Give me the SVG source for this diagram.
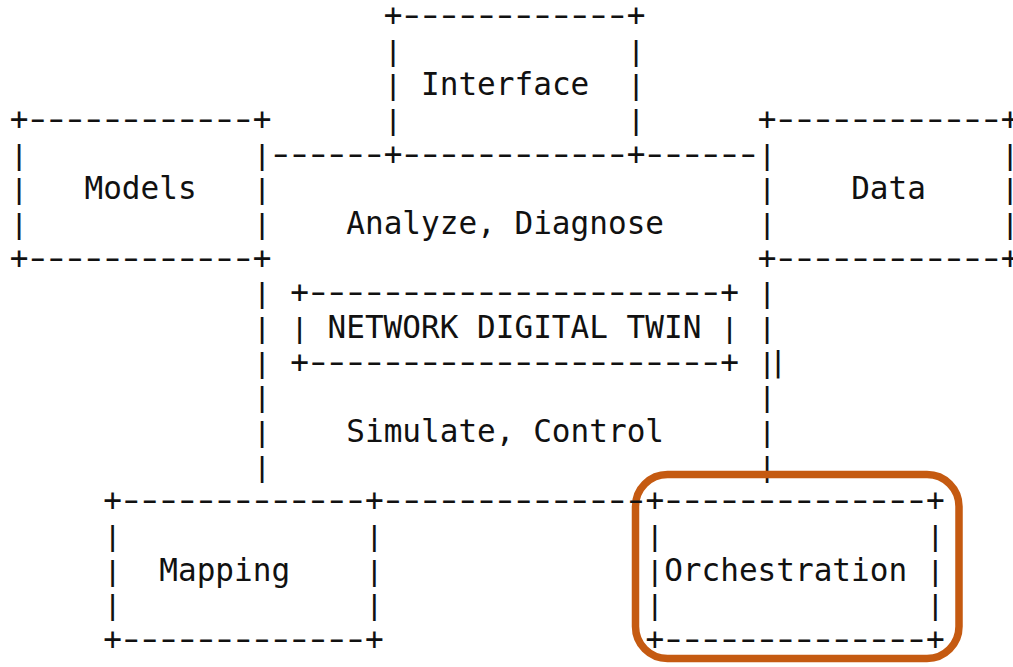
<svg xmlns="http://www.w3.org/2000/svg" width="1013" height="667" viewBox="0 0 1013 667">
  <style>
    text { font-family: "DejaVu Sans Mono", "Liberation Mono", monospace; font-size: 31.06px; fill: #111; white-space: pre; }
    /* dash runs are drawn inside a scale(1.5,1) group; spacing keeps an 18.7px cell */
    .dash { letter-spacing: -6.233px; }
    .hl { fill: none; stroke: #C55A11; stroke-width: 7.5; }
  </style>
  <rect width="1013" height="667" fill="#fff"/>

  <!-- character grid: column c starts at x = 9.65 + 18.7*c, row r baseline at y = 26 + 34.67*r.
       Inside the dash groups column c starts at x = 3.317 + 12.467*c.
       Bars sit in groups translate(0, baseline-8) scale(1,.86) with y=8. -->

  <g id="node-interface">
    <text x="383.65" y="26">+</text>
    <text x="626.75" y="26">+</text>
    <text x="383.65" y="164.68">+</text>
    <text x="626.75" y="164.68">+</text>
    <g transform="scale(1.5,1)">
      <text class="dash" x="265.124" y="26">------------</text>
      <text class="dash" x="265.124" y="164.68">------------</text>
    </g>
    <g transform="translate(0,52.67) scale(1,.86)"><text x="383.65" y="8">|</text><text x="626.75" y="8">|</text></g>
    <g transform="translate(0,87.34) scale(1,.86)"><text x="383.65" y="8">|</text><text x="626.75" y="8">|</text></g>
    <g transform="translate(0,122.01) scale(1,.86)"><text x="383.65" y="8">|</text><text x="626.75" y="8">|</text></g>
    <text x="421.05" y="95.34">Interface</text>
  </g>

  <g id="node-models">
    <text x="9.65" y="130.01">+</text>
    <text x="252.75" y="130.01">+</text>
    <text x="9.65" y="268.69">+</text>
    <text x="252.75" y="268.69">+</text>
    <g transform="scale(1.5,1)">
      <text class="dash" x="15.784" y="130.01">------------</text>
      <text class="dash" x="15.784" y="268.69">------------</text>
    </g>
    <g transform="translate(0,156.68) scale(1,.86)"><text x="9.65" y="8">|</text><text x="252.75" y="8">|</text></g>
    <g transform="translate(0,191.35) scale(1,.86)"><text x="9.65" y="8">|</text><text x="252.75" y="8">|</text></g>
    <g transform="translate(0,226.02) scale(1,.86)"><text x="9.65" y="8">|</text><text x="252.75" y="8">|</text></g>
    <text x="84.45" y="199.35">Models</text>
  </g>

  <g id="node-data">
    <text x="757.65" y="130.01">+</text>
    <text x="1000.75" y="130.01">+</text>
    <text x="757.65" y="268.69">+</text>
    <text x="1000.75" y="268.69">+</text>
    <g transform="scale(1.5,1)">
      <text class="dash" x="514.464" y="130.01">------------</text>
      <text class="dash" x="514.464" y="268.69">------------</text>
    </g>
    <g transform="translate(0,156.68) scale(1,.86)"><text x="757.65" y="8">|</text><text x="1000.75" y="8">|</text></g>
    <g transform="translate(0,191.35) scale(1,.86)"><text x="757.65" y="8">|</text><text x="1000.75" y="8">|</text></g>
    <g transform="translate(0,226.02) scale(1,.86)"><text x="757.65" y="8">|</text><text x="1000.75" y="8">|</text></g>
    <text x="851.15" y="199.35">Data</text>
  </g>

  <g id="node-twin">
    <text x="346.25" y="234.02">Analyze, Diagnose</text>
    <g transform="translate(0,295.36) scale(1,.86)"><text x="252.75" y="8">|</text><text x="757.65" y="8">|</text></g>
    <g transform="translate(0,330.03) scale(1,.86)"><text x="252.75" y="8">|</text><text x="757.65" y="8">|</text></g>
    <g transform="translate(0,364.70) scale(1,.86)"><text x="252.75" y="8">|</text><text x="757.65" y="8">|</text></g>
    <g transform="translate(0,399.37) scale(1,.86)"><text x="252.75" y="8">|</text><text x="757.65" y="8">|</text></g>
    <g transform="translate(0,434.04) scale(1,.86)"><text x="252.75" y="8">|</text><text x="757.65" y="8">|</text></g>
    <g transform="translate(0,468.71) scale(1,.86)"><text x="252.75" y="8">|</text><text x="757.65" y="8">|</text></g>
    <text x="346.25" y="442.04">Simulate, Control</text>
  </g>

  <g id="node-network-digital-twin">
    <text x="290.15" y="303.36">+</text>
    <text x="720.25" y="303.36">+</text>
    <text x="290.15" y="372.70">+</text>
    <text x="720.25" y="372.70">+</text>
    <g transform="scale(1.5,1)">
      <text class="dash" x="202.789" y="303.36">----------------------</text>
      <text class="dash" x="202.789" y="372.70">----------------------</text>
    </g>
    <g transform="translate(0,330.03) scale(1,.86)"><text x="290.15" y="8">|</text><text x="720.25" y="8">|</text></g>
    <text x="327.55" y="338.03">NETWORK DIGITAL TWIN</text>
  </g>

  <g id="node-mapping">
    <text x="103.15" y="511.38">+</text>
    <text x="364.95" y="511.38">+</text>
    <text x="103.15" y="650.06">+</text>
    <text x="364.95" y="650.06">+</text>
    <g transform="scale(1.5,1)">
      <text class="dash" x="78.119" y="511.38">-------------</text>
      <text class="dash" x="78.119" y="650.06">-------------</text>
    </g>
    <g transform="translate(0,538.05) scale(1,.86)"><text x="103.15" y="8">|</text><text x="364.95" y="8">|</text></g>
    <g transform="translate(0,572.72) scale(1,.86)"><text x="103.15" y="8">|</text><text x="364.95" y="8">|</text></g>
    <g transform="translate(0,607.39) scale(1,.86)"><text x="103.15" y="8">|</text><text x="364.95" y="8">|</text></g>
    <text x="159.25" y="580.72">Mapping</text>
  </g>

  <g id="node-orchestration">
    <text x="645.45" y="511.38">+</text>
    <text x="925.95" y="511.38">+</text>
    <text x="645.45" y="650.06">+</text>
    <text x="925.95" y="650.06">+</text>
    <g transform="scale(1.5,1)">
      <text class="dash" x="439.662" y="511.38">--------------</text>
      <text class="dash" x="439.662" y="650.06">--------------</text>
    </g>
    <g transform="translate(0,538.05) scale(1,.86)"><text x="645.45" y="8">|</text><text x="925.95" y="8">|</text></g>
    <g transform="translate(0,572.72) scale(1,.86)"><text x="645.45" y="8">|</text><text x="925.95" y="8">|</text></g>
    <g transform="translate(0,607.39) scale(1,.86)"><text x="645.45" y="8">|</text><text x="925.95" y="8">|</text></g>
    <text x="664.15" y="580.72">Orchestration</text>
    <rect class="hl" x="635.5" y="474.5" width="323.5" height="184" rx="32"/>
  </g>

  <g id="connectors">
    <g transform="scale(1.5,1)">
      <text class="dash" x="177.855" y="164.68">------</text>
      <text class="dash" x="427.195" y="164.68">------</text>
      <text class="dash" x="252.657" y="511.38">--------------</text>
    </g>
    <g transform="translate(0,364.5) scale(1,.94)"><text x="768.65" y="8">|</text></g>
  </g>
</svg>
